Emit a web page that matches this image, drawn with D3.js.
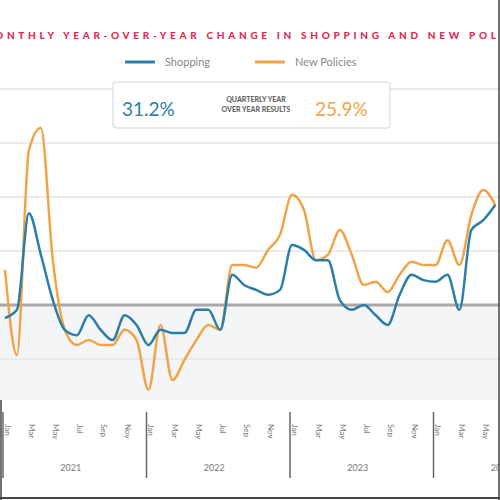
<!DOCTYPE html>
<html><head><meta charset="utf-8">
<script src="https://cdn.jsdelivr.net/npm/d3@7"></script>
<style>body{margin:0;background:#fff}svg{display:block}</style>
</head><body><svg id="c" width="500" height="500"></svg>
<script>
const years = ["2021","2022","2023","2024"];
const monthLabels = ["Jan","Mar","May","Jul","Sep","Nov"];
const yTicks = [-10,0,10,20,30,40];
const shopping = [-2.4,-0.9,17.0,9.3,0.9,-4.6,-5.6,-1.9,-4.6,-6.5,-1.9,-3.7,-7.4,-4.6,-5.2,-5.2,-0.9,-0.9,-4.6,5.6,3.7,2.8,1.9,2.8,11.1,10.2,8.3,8.3,0.9,-0.9,0,-1.9,-3.7,1.9,5.6,4.6,4.3,5.6,-0.9,13.9,15.7,18.5];
const newPolicies = [6.5,-9.3,28.7,32.8,8.3,-4.6,-7.4,-6.5,-7.4,-7.4,-4.6,-6.5,-15.7,-3.7,-13.9,-10.2,-6.5,-3.7,-4.6,7.4,7.4,6.9,10.2,13.0,20.4,17.6,8.3,9.3,13.9,9.3,3.7,4.3,2.4,5.6,8.0,7.4,7.4,12.0,7.4,16.7,21.3,18.5];
const quarterly = {shopping:"31.2%", newPolicies:"25.9%"};

const svg = d3.select("#c");
const blue="#2b7ea6", orange="#f0a448";
const x = d3.scaleLinear().domain([0,12]).range([5,148.5]);
const y = d3.scaleLinear().domain([0,10]).range([305,251]);

svg.append("rect").attr("x",0).attr("y",y(0)).attr("width",500).attr("height",400-y(0)).attr("fill","#f4f5f6");
svg.selectAll(".g").data(yTicks.filter(d=>d!==0)).join("line")
  .attr("x1",0).attr("x2",500).attr("y1",d=>y(d)).attr("y2",d=>y(d)).attr("stroke","#e4e4e4").attr("stroke-width",1.5);
svg.append("line").attr("x1",0).attr("x2",500).attr("y1",y(0)).attr("y2",y(0)).attr("stroke","#a8a8a8").attr("stroke-width",3);

const line = d3.line().x((d,i)=>x(i)).y(d=>y(d)).curve(d3.curveMonotoneX);
svg.append("path").datum(newPolicies).attr("d",line).attr("fill","none").attr("stroke",orange).attr("stroke-width",2.5);
svg.append("path").datum(shopping).attr("d",line).attr("fill","none").attr("stroke",blue).attr("stroke-width",2.5);

// x axis
years.forEach((yr,k)=>{
  const x0 = x(k*12)-2;
  svg.append("line").attr("x1",x0).attr("x2",x0).attr("y1",412).attr("y2",478).attr("stroke","#666").attr("stroke-width",1.5);
  svg.append("text").attr("x",x(k*12+5.5)).attr("y",471).attr("text-anchor","middle").attr("font-family","Lato, sans-serif").attr("font-size",9).attr("fill","#777").text(yr);
  monthLabels.forEach((m,j)=>{
    const xm = x(k*12+j*2)+2;
    svg.append("text").attr("transform",`translate(${xm},424) rotate(90)`).attr("font-family","Lato, sans-serif").attr("font-size",8).attr("fill","#777").attr("dominant-baseline","middle").text(m);
  });
});

// frame
svg.append("line").attr("x1",0).attr("x2",500).attr("y1",498).attr("y2",498).attr("stroke","#444").attr("stroke-width",2);
svg.append("line").attr("x1",499).attr("x2",499).attr("y1",0).attr("y2",500).attr("stroke","#444").attr("stroke-width",1.5);
svg.append("line").attr("x1",1).attr("x2",1).attr("y1",400).attr("y2",500).attr("stroke","#444").attr("stroke-width",1.5);

// title
svg.append("text").attr("x",262).attr("y",39).attr("text-anchor","middle").attr("font-family","Lato, sans-serif").attr("font-weight",900).attr("font-size",10).attr("letter-spacing",3.7).attr("fill","#e3294f").text("MONTHLY YEAR-OVER-YEAR CHANGE IN SHOPPING AND NEW POLICIES");

// legend
const lg=[{t:"Shopping",c:blue,x:125},{t:"New Policies",c:orange,x:255}];
lg.forEach(d=>{
  svg.append("line").attr("x1",d.x).attr("x2",d.x+30).attr("y1",62).attr("y2",62).attr("stroke",d.c).attr("stroke-width",3);
  svg.append("text").attr("x",d.x+40).attr("y",66).attr("font-family","Lato, sans-serif").attr("font-size",11).attr("fill","#888").text(d.t);
});

// box
svg.append("rect").attr("x",113).attr("y",82).attr("width",277).attr("height",46).attr("rx",3).attr("fill","#fff").attr("stroke","#dde6ea").attr("stroke-width",1.5);
svg.append("text").attr("x",122).attr("y",116).attr("font-family","Lato, sans-serif").attr("font-size",19).attr("fill",blue).text(quarterly.shopping);
svg.append("text").attr("x",315).attr("y",116).attr("font-family","Lato, sans-serif").attr("font-size",19).attr("fill",orange).text(quarterly.newPolicies);
svg.append("text").attr("x",256).attr("y",102).attr("text-anchor","middle").attr("font-family","Lato, sans-serif").attr("font-weight",900).attr("font-size",7).attr("fill","#666").text("QUARTERLY YEAR");
svg.append("text").attr("x",256).attr("y",112).attr("text-anchor","middle").attr("font-family","Lato, sans-serif").attr("font-weight",900).attr("font-size",7).attr("fill","#666").text("OVER YEAR RESULTS");
</script></body></html>
